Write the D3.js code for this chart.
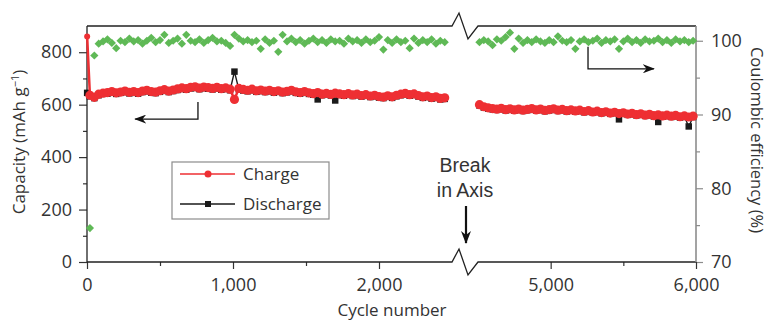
<!DOCTYPE html>
<html>
<head>
<meta charset="utf-8">
<script src="https://cdn.jsdelivr.net/npm/d3@7"></script>
<style>
  body { margin: 0; background: #fff; }
  svg text { font-family: "Open Sans", sans-serif; fill: #333; }
</style>
</head>
<body>
<div id="chart"></div>
<script>

// cycles on both sides of the axis break
const cyclesA = d3.range(20, 2460, 30);
const cyclesB = d3.range(4510, 6000, 30);

// very first cycle (before the capacity settles)
const firstCycle = 1, firstCharge = 860, firstDischarge = 645;

// capacity (mAh/g), cycles 20 - 2450
const chargeA = [
  636, 628, 640, 644, 646, 650, 645, 648, 652, 647,
  650, 646, 652, 655, 650, 648, 653, 657, 652, 656,
  660, 664, 661, 666, 668, 663, 667, 665, 662, 666,
  661, 664, 659, 620, 662, 658, 655, 659, 653, 656,
  652, 655, 650, 653, 648, 651, 655, 649, 646, 650,
  645, 642, 646, 640, 643, 639, 644, 641, 638, 642,
  637, 640, 635, 638, 633, 636, 631, 629, 634, 630,
  636, 640, 643, 638, 641, 635, 630, 633, 627, 630,
  624, 626
];
const dischargeA = [
  632, 625, 636, 641, 642, 647, 641, 645, 648, 643,
  647, 642, 648, 651, 646, 644, 649, 653, 648, 652,
  656, 660, 657, 662, 664, 659, 663, 661, 658, 662,
  657, 660, 655, 726, 658, 654, 651, 655, 649, 652,
  648, 651, 646, 649, 644, 647, 651, 645, 642, 646,
  641, 638, 620, 636, 639, 635, 616, 637, 634, 638,
  633, 636, 631, 634, 629, 632, 627, 625, 630, 626,
  632, 636, 639, 634, 637, 631, 626, 629, 623, 626,
  620, 622
];
// coulombic efficiency (%), cycles 20 - 2450
const ceA = [
  74.6, 98.0, 99.6, 99.9, 100.2, 99.7, 99.0, 100.0, 99.8, 100.3,
  99.9, 100.1, 99.6, 100.0, 100.4, 99.8, 100.1, 100.8, 99.7, 100.0,
  100.3, 99.6, 100.8, 100.0, 99.8, 100.2, 99.7, 100.1, 100.4, 99.9,
  100.0, 99.7, 99.3, 100.8, 100.3, 99.9, 100.1, 99.8, 100.0, 98.9,
  100.2, 99.7, 100.0, 98.5, 100.8, 99.9, 100.3, 99.8, 100.1, 99.6,
  100.0, 100.3, 99.8, 100.1, 99.7, 100.2, 99.9, 100.0, 99.6, 100.3,
  99.9, 100.1, 99.7, 100.2, 99.8, 100.0, 100.5, 98.8, 100.1, 99.7,
  100.2, 99.8, 100.0, 99.0, 100.3, 99.7, 100.1, 99.8, 100.2, 99.6,
  100.0, 99.8
];

// cycles 4510 - 5980
const chargeB = [
  600, 592, 588, 585, 583, 586, 581, 584, 580, 583,
  579, 582, 585, 580, 583, 578, 581, 584, 579, 582,
  577, 580, 576, 579, 574, 577, 572, 575, 570, 573,
  568, 571, 566, 569, 564, 567, 562, 565, 560, 563,
  558, 561, 557, 560, 556, 559, 554, 557, 553, 556
];
const dischargeB = [
  597, 589, 585, 582, 580, 583, 578, 581, 577, 580,
  576, 579, 582, 577, 580, 575, 578, 581, 576, 579,
  574, 577, 573, 576, 571, 574, 569, 572, 567, 570,
  565, 568, 544, 566, 561, 564, 559, 562, 557, 560,
  555, 534, 554, 557, 553, 556, 551, 554, 517, 553
];
const ceB = [
  99.8, 100.1, 99.9, 99.4, 100.2, 100.0, 100.5, 101.1, 98.9, 100.3,
  99.7, 100.1, 99.8, 100.2, 99.9, 99.7, 100.1, 99.8, 100.6, 100.0,
  99.8, 100.1, 98.9, 99.9, 100.2, 99.8, 100.0, 100.3, 99.7, 100.1,
  99.9, 100.2, 98.9, 99.9, 100.3, 99.8, 100.1, 99.7, 100.2, 99.9,
  100.0, 100.3, 99.8, 100.1, 99.7, 100.2, 99.9, 100.1, 99.8, 100.0
];

const capTicks = [0, 200, 400, 600, 800],
      capMinor = [100, 300, 500, 700],
      ceTicks = [70, 80, 90, 100],
      ceMinor = [75, 85, 95],
      xTicksA = [0, 1000, 2000],
      xMinorA = [500, 1500],
      xTicksB = [5000, 6000],
      xMinorB = [5500];

const width = 769, height = 322,
      margin = { top: 26, right: 73, bottom: 60, left: 87 },
      innerWidth = width - margin.left - margin.right,
      innerHeight = height - margin.top - margin.bottom;

const red = "#ee2f33", green = "#5fb956", black = "#1a1a1a";

const svg = d3.select("#chart").append("svg")
    .attr("width", width)
    .attr("height", height);

const g = svg.append("g")
    .attr("transform", `translate(${margin.left},${margin.top})`);

// Scales - broken x axis made of two linear pieces
const xA = d3.scaleLinear().domain([0, 2500]).range([0, 365]);
const xB = d3.scaleLinear().domain([4500, 6000]).range([391, innerWidth]);
const yCap = d3.scaleLinear().domain([0, 900]).range([innerHeight, 0]);
const yCE = d3.scaleLinear().domain([70, 102]).range([innerHeight, 0]);

const fmt = d3.format(",");

// Axes (domain paths removed, frame drawn below because of the break)
function styleAxis(sel, color) {
    sel.attr("font-size", 18).attr("font-family", null);
    sel.select(".domain").remove();
    sel.selectAll("line").attr("stroke", color).attr("stroke-width", 1.2);
    sel.selectAll("text").attr("fill", "#333");
}
function minorAxis(sel, color) {
    sel.select(".domain").remove();
    sel.selectAll("text").remove();
    sel.selectAll("line").attr("stroke", color).attr("stroke-width", 1.2);
}

g.append("g").call(d3.axisLeft(yCap).tickValues(capTicks).tickSize(8).tickPadding(7))
    .call(styleAxis, "#333");
g.append("g").call(d3.axisLeft(yCap).tickValues(capMinor).tickSize(4))
    .call(minorAxis, "#333");

g.append("g").attr("transform", `translate(${innerWidth},0)`)
    .call(d3.axisRight(yCE).tickValues(ceTicks).tickSize(7).tickPadding(8))
    .call(styleAxis, "#8c8c8c");
g.append("g").attr("transform", `translate(${innerWidth},0)`)
    .call(d3.axisRight(yCE).tickValues(ceMinor).tickSize(4))
    .call(minorAxis, "#8c8c8c");

[[xA, xTicksA, xMinorA], [xB, xTicksB, xMinorB]].forEach(([sc, major, minor]) => {
    g.append("g").attr("transform", `translate(0,${innerHeight})`)
        .call(d3.axisBottom(sc).tickValues(major).tickSize(7).tickPadding(9).tickFormat(fmt))
        .call(styleAxis, "#333");
    g.append("g").attr("transform", `translate(0,${innerHeight})`)
        .call(d3.axisBottom(sc).tickValues(minor).tickSize(4))
        .call(minorAxis, "#333");
});

// Frame with zigzag break marks
const bx0 = xA.range()[1], bx1 = xB.range()[0];
const zig = (y) => `M0,${y}H${bx0}L${bx0 + 7},${y - 13}L${bx0 + 16},${y + 13}L${bx1},${y}H${innerWidth}`;
g.append("path").attr("d", zig(0)).attr("fill", "none").attr("stroke", "#222").attr("stroke-width", 1.3);
g.append("path").attr("d", zig(innerHeight)).attr("fill", "none").attr("stroke", "#222").attr("stroke-width", 1.3);
g.append("line").attr("x1", 0).attr("x2", 0).attr("y1", 0).attr("y2", innerHeight)
    .attr("stroke", "#222").attr("stroke-width", 1.3);
g.append("line").attr("x1", innerWidth).attr("x2", innerWidth).attr("y1", 0).attr("y2", innerHeight)
    .attr("stroke", "#8c8c8c").attr("stroke-width", 1.6);

// Data
const left = (vals, first) => {
    const pts = cyclesA.map((c, i) => [xA(c), vals[i]]);
    return first == null ? pts : [[xA(firstCycle), first]].concat(pts);
};
const right = (vals) => cyclesB.map((c, i) => [xB(c), vals[i]]);

const disA = left(dischargeA, firstDischarge), disB = right(dischargeB);
const chgA = left(chargeA, firstCharge), chgB = right(chargeB);
const effA = left(ceA), effB = right(ceB);

const capLine = d3.line().x(d => d[0]).y(d => yCap(d[1]));

// discharge (black squares)
[disA, disB].forEach(pts => {
    g.append("path").attr("d", capLine(pts)).attr("fill", "none")
        .attr("stroke", black).attr("stroke-width", 1.4);
});
g.selectAll(".dis").data(disA.concat(disB)).enter().append("path")
    .attr("class", "dis")
    .attr("transform", d => `translate(${d[0]},${yCap(d[1])})`)
    .attr("d", d3.symbol().type(d3.symbolSquare).size(42))
    .attr("fill", black);

// charge (red circles)
[chgA, chgB].forEach(pts => {
    g.append("path").attr("d", capLine(pts)).attr("fill", "none")
        .attr("stroke", red).attr("stroke-width", 2.5);
});
g.selectAll(".chg").data(chgA.concat(chgB)).enter().append("circle")
    .attr("class", "chg")
    .attr("cx", d => d[0])
    .attr("cy", d => yCap(d[1]))
    .attr("r", d => d[1] > 800 ? 3 : 4.6)
    .attr("fill", red);

// coulombic efficiency (green diamonds)
g.selectAll(".ce").data(effA.concat(effB)).enter().append("path")
    .attr("class", "ce")
    .attr("transform", d => `translate(${d[0]},${yCE(d[1])}) rotate(45)`)
    .attr("d", d3.symbol().type(d3.symbolSquare).size(34))
    .attr("fill", green);

// Arrow heads
const defs = svg.append("defs");
function arrowHead(id, w, l) {
    defs.append("marker")
        .attr("id", id)
        .attr("markerUnits", "userSpaceOnUse")
        .attr("viewBox", `0 0 ${l} ${w}`)
        .attr("refX", l - 1).attr("refY", w / 2)
        .attr("markerWidth", l).attr("markerHeight", w)
        .attr("orient", "auto")
        .append("path")
        .attr("d", `M0,0L${l},${w / 2}L0,${w}L${l * 0.3},${w / 2}Z`)
        .attr("fill", "#111");
}
arrowHead("ah", 9, 12);
arrowHead("ahBig", 10, 13);

// series arrows
g.append("path")
    .attr("d", `M${xA(760)},${yCap(610)}V${yCap(545)}H${xA(330)}`)
    .attr("fill", "none").attr("stroke", "#111").attr("stroke-width", 1.3)
    .attr("marker-end", "url(#ah)");
g.append("path")
    .attr("d", `M${xB(5257)},${yCE(99.2)}V${yCE(96.2)}H${xB(5710)}`)
    .attr("fill", "none").attr("stroke", "#111").attr("stroke-width", 1.3)
    .attr("marker-end", "url(#ah)");

// Break annotation
const bxm = (bx0 + bx1) / 2;
const brk = g.append("text")
    .attr("text-anchor", "middle")
    .style("font-family", "'Liberation Sans', Arial, sans-serif")
    .attr("font-size", 19.5)
    .attr("fill", "#111");
brk.append("tspan").attr("x", bxm).attr("y", 146).text("Break");
brk.append("tspan").attr("x", bxm).attr("y", 171).text("in Axis");
g.append("line")
    .attr("x1", bxm + 1).attr("x2", bxm + 1)
    .attr("y1", 180).attr("y2", 217)
    .attr("stroke", "#111").attr("stroke-width", 2.2)
    .attr("marker-end", "url(#ahBig)");

// Legend
const legend = g.append("g").attr("transform", `translate(${172 - margin.left},${162 - margin.top})`);
legend.append("rect")
    .attr("width", 157).attr("height", 57)
    .attr("fill", "#fff").attr("stroke", "#8c8c8c").attr("stroke-width", 1.2);

const legendLabels = ["Charge", "Discharge"];
const legendColors = [red, black];
legendLabels.forEach(function(d, i) {
    const row = legend.append("g").attr("transform", `translate(0,${12 + i * 30})`);
    row.append("line").attr("x1", 8).attr("x2", 63)
        .attr("stroke", legendColors[i]).attr("stroke-width", 1.6);
    if (i === 0) {
        row.append("circle").attr("cx", 36).attr("r", 3.5).attr("fill", red);
    } else {
        row.append("path").attr("transform", "translate(36,0)")
            .attr("d", d3.symbol().type(d3.symbolSquare).size(36)).attr("fill", black);
    }
    row.append("text").attr("x", 71).attr("y", 6)
        .attr("font-size", 17)
        .text(d);
});

// Axis titles
const capTitle = svg.append("text")
    .attr("transform", `translate(25,142) rotate(-90)`)
    .attr("text-anchor", "middle")
    .attr("font-size", 17);
capTitle.append("tspan").text("Capacity (mAh g");
capTitle.append("tspan").attr("dy", -6).attr("font-size", 11).text("\u22121");
capTitle.append("tspan").attr("dy", 6).text(")");

svg.append("text")
    .attr("transform", `translate(751,140) rotate(90)`)
    .attr("text-anchor", "middle")
    .attr("font-size", 16.5)
    .text("Coulombic efficiency (%)");

svg.append("text")
    .attr("x", 392).attr("y", 316)
    .attr("text-anchor", "middle")
    .attr("font-size", 17)
    .text("Cycle number");

</script>
</body>
</html>
